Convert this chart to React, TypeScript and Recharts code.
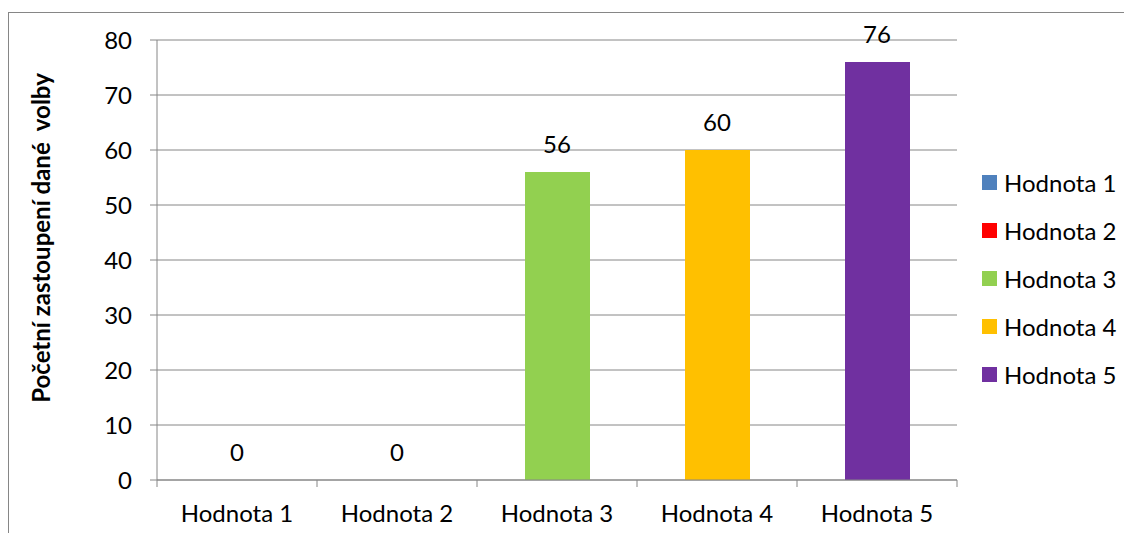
import React from "react";
import {
  ComposedChart,
  Bar,
  Line,
  XAxis,
  YAxis,
  CartesianGrid,
  Cell,
  LabelList,
} from "recharts";

const categories = ["Hodnota 1", "Hodnota 2", "Hodnota 3", "Hodnota 4", "Hodnota 5"];
const counts = [0, 0, 56, 60, 76];
const yTicks = [0, 10, 20, 30, 40, 50, 60, 70, 80];
const palette = ["#4F81BD", "#FF0000", "#92D050", "#FFC000", "#7030A0"];
const yTitle = "Početní zastoupení dané  volby";

const data = categories.map((name, i) => ({ name, value: counts[i] }));

const CHART_W = 1123;
const CHART_H = 520;
const MARGIN = { top: 27, right: 175, bottom: 0, left: 0 };
const PLOT_W = CHART_W - MARGIN.left - MARGIN.right - 148;
const AXIS = "#868686";
const FONT = "Lato, 'Open Sans', sans-serif";
const FS = 24;

const XTick = (props: any) => {
  const { x, y, payload, index } = props;
  const band = PLOT_W / categories.length;
  return (
    <g>
      <line x1={x - band / 2} y1={y} x2={x - band / 2} y2={y + 7} stroke={AXIS} />
      {index === categories.length - 1 && (
        <line x1={x + band / 2} y1={y} x2={x + band / 2} y2={y + 7} stroke={AXIS} />
      )}
      <text x={x} y={y + 42} textAnchor="middle" fill="#000" fontSize={FS} fontFamily={FONT}>
        {payload.value}
      </text>
    </g>
  );
};

export default function App() {
  return (
    <div
      style={{
        position: "relative",
        marginTop: 4,
        width: 1124,
        height: 521,
        borderTop: `1px solid ${AXIS}`,
        borderLeft: `1px solid ${AXIS}`,
        boxSizing: "border-box",
        fontFamily: FONT,
      }}
    >
      <ComposedChart width={CHART_W} height={CHART_H} data={data} margin={MARGIN}>
        <CartesianGrid horizontal={true} vertical={false} stroke={AXIS} />
        <XAxis
          dataKey="name"
          height={53}
          interval={0}
          tickLine={false}
          tickSize={0}
          tickMargin={0}
          axisLine={{ stroke: AXIS }}
          tick={<XTick />}
        />
        <YAxis
          width={148}
          domain={[0, 80]}
          ticks={yTicks}
          interval={0}
          tickSize={7}
          tickMargin={18}
          axisLine={{ stroke: AXIS }}
          tickLine={{ stroke: AXIS }}
          tick={{ fill: "#000", fontSize: FS, fontFamily: FONT }}
          label={{
            content: ({ viewBox }: any) => {
              const cx = viewBox.x + 31;
              const cy = 225;
              return (
                <text
                  x={cx}
                  y={cy}
                  transform={`rotate(-90, ${cx}, ${cy})`}
                  textAnchor="middle"
                  dominantBaseline="central"
                  fontSize={24}
                  fontWeight="bold"
                  fontFamily={FONT}
                  fill="#000"
                  style={{ whiteSpace: "pre" }}
                >
                  {yTitle}
                </text>
              );
            },
          }}
        />
        <Bar dataKey="value" barSize={65} isAnimationActive={false}>
          {data.map((entry, i) => (
            <Cell key={`cell-${i}`} fill={palette[i]} />
          ))}
        </Bar>
        <Line
          dataKey="value"
          stroke="none"
          dot={false}
          activeDot={false}
          isAnimationActive={false}
        >
          <LabelList
            dataKey="value"
            position="top"
            offset={19}
            fill="#000"
            fontSize={FS}
            fontFamily={FONT}
          />
        </Line>
      </ComposedChart>
      <div style={{ position: "absolute", left: 973, top: 145 }}>
        {categories.map((name, i) => (
          <div
            key={name}
            style={{ height: 48, display: "flex", alignItems: "center", fontSize: FS, color: "#000" }}
          >
            <span
              style={{ width: 15, height: 15, background: palette[i], marginRight: 7, display: "inline-block" }}
            />
            <span>{name}</span>
          </div>
        ))}
      </div>
    </div>
  );
}
